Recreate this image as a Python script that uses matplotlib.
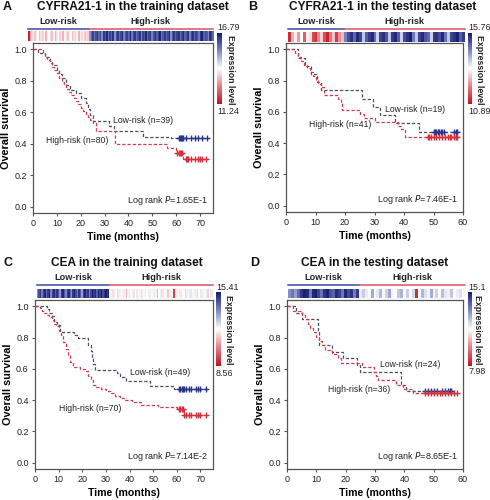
import numpy as np
import matplotlib
matplotlib.use('Agg')
import matplotlib.pyplot as plt
from matplotlib.colors import LinearSegmentedColormap, Normalize
from matplotlib.cm import ScalarMappable
import matplotlib.transforms as mtransforms

plt.rcParams['font.family'] = ['Liberation Sans', 'DejaVu Sans']

# ---------------- data ----------------
# Panel A: CYFRA21-1, training
A_low_t = [0, 2, 5, 7, 8, 10, 11, 12, 14, 15.5, 18, 20, 22, 23, 24, 25, 32, 34, 46, 58]
A_low_s = [1.0, 0.975, 0.95, 0.92, 0.90, 0.87, 0.84, 0.82, 0.77, 0.74, 0.72, 0.69, 0.66, 0.62, 0.58, 0.545, 0.51, 0.48, 0.445, 0.435]
A_low_cens = [61, 61.5, 62, 62.5, 63, 64, 66, 68, 69, 71, 73]
A_high_t = [0, 4, 5, 6, 7, 8, 9, 10, 11, 12, 13, 14, 15, 16, 17, 18, 19, 20, 21, 22, 23, 24, 25, 26.5, 34.5, 56, 60, 63]
A_high_s = [1.0, 0.975, 0.95, 0.935, 0.91, 0.89, 0.87, 0.85, 0.82, 0.79, 0.77, 0.75, 0.73, 0.71, 0.69, 0.67, 0.65, 0.63, 0.61, 0.59, 0.57, 0.55, 0.53, 0.48, 0.40, 0.37, 0.34, 0.305]
A_high_cens = [60.5, 61, 61.5, 62, 62.5, 64, 64.5, 65, 66, 68, 69, 70, 71, 72.5]
A_expr_low = [11.5, 13.0, 13.6, 13.9, 13.4, 13.8, 14.0, 13.3, 13.7, 13.5,
              13.9, 13.2, 13.8, 14.0, 13.6, 13.4, 13.9, 13.3, 13.7, 14.0,
              13.5, 13.8, 13.2, 13.9, 13.6, 13.4, 13.8, 14.0, 13.3, 13.7,
              13.5, 13.9, 13.2, 13.8, 13.6, 14.0, 13.4, 13.7, 13.5]
A_expr_high = [15.2, 15.9, 16.3, 15.6, 16.1, 16.5, 15.8, 16.2, 15.4, 16.4,
               16.0, 16.6, 15.7, 16.3, 15.9, 16.5, 15.3, 16.1, 16.4, 15.8,
               16.2, 16.6, 15.5, 16.0, 16.3, 15.9, 16.7, 15.6, 16.2, 16.4,
               15.7, 16.1, 16.5, 15.4, 16.3, 16.0, 16.6, 15.8, 16.2, 16.4,
               15.5, 16.1, 16.5, 15.9, 16.3, 16.7, 15.6, 16.0, 16.4, 15.8,
               16.2, 16.6, 15.3, 16.1, 16.4, 15.9, 16.3, 16.5, 15.7, 16.2,
               16.6, 15.9, 16.0, 16.4, 15.5, 16.2, 16.5, 15.8, 16.3, 16.1,
               15.6, 16.4, 16.7, 15.9, 16.2, 16.0, 15.4, 16.5, 16.3, 15.8]

# Panel B: CYFRA21-1, testing
B_low_t = [0, 4, 6.5, 8.5, 10.5, 12, 25.7, 29.5, 32, 37, 45]
B_low_s = [1.0, 0.947, 0.895, 0.842, 0.789, 0.737, 0.684, 0.632, 0.579, 0.526, 0.47]
B_low_cens = [50, 50.5, 51, 51.5, 52, 52.5, 53, 53.5, 57, 57.5, 58]
B_high_t = [0, 3, 4, 5, 6, 7, 8, 9, 10, 11, 12, 13, 17.5, 18.5, 19, 25, 26.5, 30, 38, 39, 40.5]
B_high_s = [1.0, 0.976, 0.951, 0.927, 0.902, 0.878, 0.854, 0.829, 0.805, 0.78, 0.756, 0.71, 0.683, 0.659, 0.61, 0.585, 0.561, 0.537, 0.512, 0.488, 0.44]
B_high_cens = [48, 48.5, 49, 50, 51, 52, 53, 54, 55, 55.5, 56, 57, 57.5, 58]
B_expr_low = [11.2, 12.6, 13.2, 12.4, 13.3, 11.8, 13.2, 13.0, 11.5, 11.3,
              12.2, 12.9, 11.6, 11.1, 12.0, 12.8, 11.4, 12.3, 12.7]
B_expr_high = [14.6, 15.2, 15.5, 14.9, 15.6, 15.3, 13.9, 15.0, 15.4, 15.6,
               14.8, 13.8, 15.3, 15.5, 15.1, 13.9, 15.4, 15.6, 15.0, 13.8,
               15.2, 15.5, 15.7, 14.7, 13.9, 15.3, 15.6, 15.1, 14.9, 13.8,
               15.4, 15.5, 15.2, 15.6, 14.8, 13.9, 15.3, 15.5, 15.7, 15.0, 15.4]

# Panel C: CEA, training
C_low_t = [0, 5, 6, 7, 8, 9.5, 10.5, 16.5, 18, 22.5, 23.5, 24, 24.5, 25.5, 34.5, 36, 38.5, 48.5, 59]
C_low_s = [1.0, 0.98, 0.959, 0.939, 0.898, 0.878, 0.837, 0.816, 0.796, 0.755, 0.714, 0.673, 0.633, 0.592, 0.571, 0.551, 0.52, 0.49, 0.47]
C_low_cens = [61, 61.5, 62, 62.5, 63, 64, 65, 66, 68, 69, 70, 72.5]
C_high_t = [0, 2, 3, 4, 5, 6, 7, 8, 9, 10, 11, 12, 13, 14, 15, 16, 19, 21, 22.5, 23.5, 24.5, 26, 28, 30, 32, 34, 36, 38, 41, 45, 52, 60, 63]
C_high_s = [1.0, 0.986, 0.971, 0.957, 0.943, 0.929, 0.914, 0.886, 0.871, 0.843, 0.814, 0.771, 0.729, 0.686, 0.643, 0.614, 0.60, 0.586, 0.557, 0.529, 0.50, 0.486, 0.471, 0.457, 0.443, 0.429, 0.414, 0.40, 0.386, 0.371, 0.357, 0.343, 0.305]
C_high_cens = [61, 61.5, 62, 62.5, 63, 64, 65, 66, 68, 69, 70, 72.5]
C_expr_low = [13.6, 14.6, 15.0, 13.9, 14.8, 15.2, 14.1, 14.9, 15.3, 13.7,
              14.7, 15.1, 14.3, 15.0, 14.5, 13.5, 14.9, 15.2, 14.4, 13.8,
              14.8, 15.1, 14.2, 13.6, 14.9, 15.3, 14.6, 13.9, 15.0, 14.4,
              13.4, 14.8, 15.2, 14.5, 15.0, 13.8, 14.7, 15.3, 14.9, 15.1,
              14.3, 15.2, 14.8, 15.4, 14.6, 15.0, 15.3, 14.9, 15.2]
C_expr_high = [11.9, 12.2, 11.6, 12.3, 12.0, 11.4, 12.2, 11.8, 12.1, 12.3,
               11.7, 11.0, 12.1, 12.3, 11.9, 12.2, 11.6, 12.0, 12.3, 11.8,
               12.1, 11.5, 12.2, 11.9, 12.3, 12.0, 11.7, 12.2, 11.9, 12.1,
               12.3, 11.8, 11.1, 12.0, 12.2, 11.6, 12.3, 11.9, 12.1, 11.3,
               12.2, 11.8, 12.0, 9.3, 11.5, 12.2, 11.9, 12.3, 11.7, 12.1,
               12.0, 11.4, 12.2, 11.9, 12.3, 11.6, 12.1, 11.8, 12.2, 11.5,
               12.0, 12.3, 11.7, 12.1, 11.9, 12.2, 11.4, 12.0, 12.3, 11.6]

# Panel D: CEA, testing
D_low_t = [0, 3, 5, 10.5, 11, 15.5, 19, 24, 25, 39, 40.5]
D_low_s = [1.0, 0.958, 0.917, 0.833, 0.75, 0.708, 0.667, 0.625, 0.583, 0.50, 0.46]
D_low_cens = [47, 48, 49, 50, 51, 53, 54, 55, 55.5, 56]
D_high_t = [0, 2, 5, 6, 7, 8, 9, 10, 11, 12, 13, 15.5, 17.5, 18.5, 25.5, 29.5, 30.5, 31, 37, 39.5, 43]
D_high_s = [1.0, 0.972, 0.944, 0.917, 0.889, 0.861, 0.833, 0.806, 0.778, 0.75, 0.722, 0.694, 0.667, 0.639, 0.611, 0.583, 0.556, 0.528, 0.50, 0.472, 0.444]
D_high_cens = [47, 48, 49, 50, 51, 52, 53, 54, 55, 56, 57, 58]
D_expr_low = [13.2, 13.6, 13.0, 13.8, 14.6, 15.0, 14.8, 13.5, 14.9, 15.1,
              14.4, 13.7, 14.7, 15.0, 14.2, 13.9, 14.8, 14.5, 13.6, 14.9,
              14.3, 14.7, 13.5, 14.6]
D_expr_high = [11.8, 12.3, 11.2, 11.6, 12.8, 11.5, 11.9, 12.6, 11.4, 12.2,
               12.9, 11.7, 11.5, 12.4, 12.7, 11.6, 12.3, 11.5, 12.1, 8.5,
               11.6, 12.6, 12.0, 11.4, 12.8, 11.7, 12.2, 11.5, 12.5, 11.9,
               11.3, 12.4, 11.6, 11.8, 12.0, 11.5]

panel_letters = ['A', 'B', 'C', 'D']
panel_titles = ['CYFRA21-1 in the training dataset', 'CYFRA21-1 in the testing dataset',
                'CEA in the training dataset', 'CEA in the testing dataset']
expr_ranges = [(11.24, 16.79), (10.89, 15.76), (8.56, 15.41), (7.98, 15.1)]
range_labels = [('16.79', '11.24'), ('15.76', '10.89'), ('15.41', '8.56'), ('15.1', '7.98')]
low_labels = ['Low-risk (n=39)', 'Low-risk (n=19)', 'Low-risk (n=49)', 'Low-risk (n=24)']
high_labels = ['High-risk (n=80)', 'High-risk (n=41)', 'High-risk (n=70)', 'High-risk (n=36)']
pvalues = ['1.65E-1', '7.46E-1', '7.14E-2', '8.65E-1']
x_max = [75.4, 60, 75.3, 60]
x_ticks = [[0, 10, 20, 30, 40, 50, 60, 70], [0, 10, 20, 30, 40, 50, 60],
           [0, 10, 20, 30, 40, 50, 60, 70], [0, 10, 20, 30, 40, 50, 60]]

# ---------------- layout (pixels) ----------------
W, H = 490, 500
fig = plt.figure(figsize=(4.9, 5.0), dpi=100)

def rect(l, t, r, b):
    return [l / W, 1 - b / H, (r - l) / W, (b - t) / H]

layout = [
    dict(box=(33, 43, 213, 213), strip=(28, 31, 213, 41), line_y=29, lab_y=22, cbar=(217, 33, 222, 104),
         cb_top=(217, 28), cb_bot=(217, 112), exp_x=230, exp_y=(35, 104), title=(133, 7), letter=(3, 7),
         low_pos=(33.5, 0.545), high_pos=(5.6, 0.42)),
    dict(box=(286, 43, 463, 212), strip=(288, 32, 465, 42), line_y=29, lab_y=22, cbar=(468, 33, 472, 104),
         cb_top=(468, 28), cb_bot=(468, 112), exp_x=479, exp_y=(35, 104), title=(383, 7), letter=(248, 7),
         low_pos=(33.6, 0.614), high_pos=(7.7, 0.518)),
    dict(box=(35, 300, 213, 469), strip=(37, 289, 213, 298), line_y=285, lab_y=278, cbar=(216, 292, 221, 366),
         cb_top=(216, 288), cb_bot=(216, 373), exp_x=228, exp_y=(295, 364), title=(127, 263), letter=(3, 263),
         low_pos=(40, 0.576), high_pos=(10, 0.345)),
    dict(box=(287, 300, 463, 469), strip=(288, 289, 465, 298), line_y=285, lab_y=278, cbar=(468, 292, 472, 366),
         cb_top=(468, 288), cb_bot=(468, 372), exp_x=477, exp_y=(295, 364), title=(375, 263), letter=(250, 263),
         low_pos=(31.7, 0.63), high_pos=(14, 0.47)),
]

curves = [
    (A_low_t, A_low_s, A_low_cens, A_high_t, A_high_s, A_high_cens, A_expr_low, A_expr_high),
    (B_low_t, B_low_s, B_low_cens, B_high_t, B_high_s, B_high_cens, B_expr_low, B_expr_high),
    (C_low_t, C_low_s, C_low_cens, C_high_t, C_high_s, C_high_cens, C_expr_low, C_expr_high),
    (D_low_t, D_low_s, D_low_cens, D_high_t, D_high_s, D_high_cens, D_expr_low, D_expr_high),
]

cmap = LinearSegmentedColormap.from_list(
    'expr', ['#c1121f', '#e57d86', '#ffffff', '#7f88c4', '#151c72'])

LOW_LINE = '#474e66'
LOW_MARK = '#27358a'
HIGH_LINE = '#d03c4a'
HIGH_MARK = '#d62f3c'
SPINE = '#555555'


def draw_km(ax, t, s, cens, line_color, mark_color):
    t = list(t)
    s = list(s)
    end = max(cens) if cens else t[-1]
    ax.step(t + [end], s + [s[-1]], where='post', color=line_color, lw=0.9,
            dashes=(2.6, 1.6), zorder=3)
    idx = np.searchsorted(np.array(t), np.array(cens), side='right') - 1
    cy = np.array(s)[idx]
    ax.plot(cens, cy, ls='none', marker='+', ms=4, mew=1.0, color=mark_color, zorder=4)


for i in range(4):
    L = layout[i]
    low_t, low_s, low_c, high_t, high_s, high_c, e_low, e_high = curves[i]
    vmin, vmax = expr_ranges[i]
    norm = Normalize(vmin=vmin, vmax=vmax)

    # main KM axes
    ax = fig.add_axes(rect(*L['box']))
    draw_km(ax, low_t, low_s, low_c, LOW_LINE, LOW_MARK)
    draw_km(ax, high_t, high_s, high_c, HIGH_LINE, HIGH_MARK)
    ax.set_xlim(0, x_max[i])
    ax.set_ylim(-0.04, 1.04)
    ax.set_xticks(x_ticks[i])
    ax.set_yticks([0.0, 0.2, 0.4, 0.6, 0.8, 1.0])
    ax.set_yticklabels(['0.0', '0.2', '0.4', '0.6', '0.8', '1.0'])
    ax.tick_params(direction='out', length=2.5, width=0.8, labelsize=6.5, pad=2,
                   color=SPINE, labelcolor='#222222')
    for sp in ax.spines.values():
        sp.set_color(SPINE)
        sp.set_linewidth(0.9)
    ax.set_xlabel('Time (months)', fontsize=7.6, fontweight='bold', labelpad=3)
    ax.set_ylabel('Overall survival', fontsize=7.8, fontweight='bold', labelpad=2.5)
    ax.text(L['low_pos'][0], L['low_pos'][1], low_labels[i], fontsize=6.2,
            va='center', ha='left', color='#222222', zorder=5)
    ax.text(L['high_pos'][0], L['high_pos'][1], high_labels[i], fontsize=6.2,
            va='center', ha='left', color='#222222', zorder=5)
    ax.text(0.975, 0.035, 'Log rank $\\mathit{P}$=' + pvalues[i], transform=ax.transAxes,
            fontsize=6.5, ha='right', va='bottom', color='#222222')

    # expression strip
    vals = np.array(e_low + e_high, dtype=float)
    n_low = len(e_low)
    n_all = len(vals)
    axs = fig.add_axes(rect(*L['strip']))
    axs.imshow(vals[None, :], aspect='auto', cmap=cmap, norm=norm,
               interpolation='nearest', extent=(0, n_all, 0, 1))
    axs.set_xlim(0, n_all)
    axs.set_ylim(0, 1)
    axs.axis('off')
    sh = L['strip'][3] - L['strip'][1]
    ly = 1 + (L['strip'][1] - L['line_y']) / sh
    ty = 1 + (L['strip'][1] - L['lab_y']) / sh
    trans = mtransforms.blended_transform_factory(axs.transData, axs.transAxes)
    axs.plot([0, n_low], [ly, ly], color='#3b4a9c', lw=1.1, transform=trans, clip_on=False)
    axs.plot([n_low, n_all], [ly, ly], color='#d9545e', lw=1.1, transform=trans, clip_on=False)
    axs.text(n_low / 2, ty, 'Low-risk', transform=trans, ha='center', va='center',
             fontsize=6.6, fontweight='bold', color='#222222')
    axs.text((n_low + n_all) / 2, ty, 'High-risk', transform=trans, ha='center', va='center',
             fontsize=6.6, fontweight='bold', color='#222222')

    # colorbar
    cax = fig.add_axes(rect(*L['cbar']))
    cb = fig.colorbar(ScalarMappable(norm=norm, cmap=cmap), cax=cax)
    cb.set_ticks([])
    cb.outline.set_visible(False)
    top_lab, bot_lab = range_labels[i]
    fig.text(L['cb_top'][0] / W, 1 - L['cb_top'][1] / H, top_lab, fontsize=6.4,
             ha='left', va='center', color='#222222')
    fig.text(L['cb_bot'][0] / W, 1 - L['cb_bot'][1] / H, bot_lab, fontsize=6.4,
             ha='left', va='center', color='#222222')
    ey0, ey1 = L['exp_y']
    fig.text(L['exp_x'] / W, 1 - ey0 / H, 'Expression level', rotation=270,
             fontsize=6.3, fontweight='bold', ha='center', va='top', color='#222222',
             rotation_mode='default')

    # title and panel letter
    fig.text(L['title'][0] / W, 1 - L['title'][1] / H, panel_titles[i], fontsize=8.6,
             fontweight='bold', ha='center', va='center', color='#111111')
    fig.text(L['letter'][0] / W, 1 - L['letter'][1] / H, panel_letters[i], fontsize=9,
             fontweight='bold', ha='left', va='center', color='#111111')

fig.savefig('out.png', dpi=100)
